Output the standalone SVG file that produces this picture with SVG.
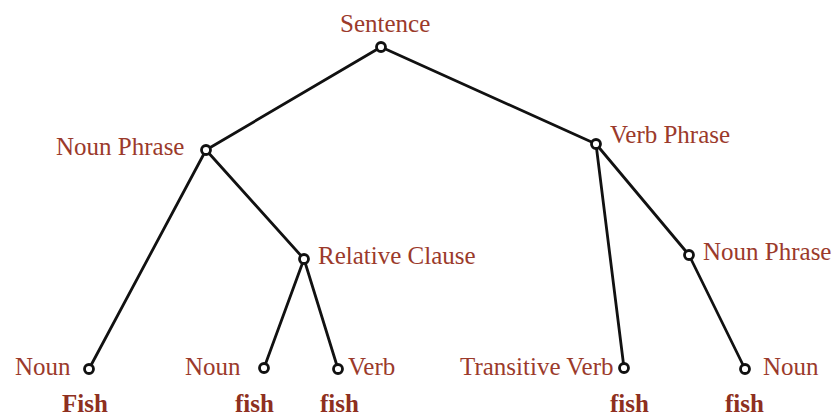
<svg xmlns="http://www.w3.org/2000/svg" width="840" height="416" viewBox="0 0 840 416">
<style>
.lbl{font-family:"Liberation Serif","DejaVu Serif",serif;font-size:25px;fill:#9b3a2b}
.word{font-family:"Liberation Serif","DejaVu Serif",serif;font-size:25px;font-weight:bold;fill:#8e2f20}
.edge{stroke:#111;stroke-width:2.8;fill:none;stroke-linecap:round}
.dot{stroke:#111;stroke-width:2.8;fill:#fff}
</style>
<rect width="840" height="416" fill="#fff"/>
<g id="connectors">
<line class="edge" x1="381" y1="47" x2="206" y2="150"/>
<line class="edge" x1="381" y1="47" x2="596" y2="144"/>
<line class="edge" x1="206" y1="150" x2="89" y2="369"/>
<line class="edge" x1="206" y1="150" x2="304" y2="259"/>
<line class="edge" x1="304" y1="259" x2="264" y2="368"/>
<line class="edge" x1="304" y1="259" x2="338" y2="369"/>
<line class="edge" x1="596" y1="144" x2="624" y2="368"/>
<line class="edge" x1="596" y1="144" x2="689" y2="255"/>
<line class="edge" x1="689" y1="255" x2="745" y2="369"/>
</g>
<g id="sentence"><circle class="dot" cx="381" cy="47" r="4.5"/><text class="lbl" x="340" y="32">Sentence</text></g>
<g id="np1"><circle class="dot" cx="206" cy="150" r="4.5"/><text class="lbl" x="56" y="155">Noun Phrase</text></g>
<g id="vp"><circle class="dot" cx="596" cy="144" r="4.5"/><text class="lbl" x="610" y="143">Verb Phrase</text></g>
<g id="rc"><circle class="dot" cx="304" cy="259" r="4.5"/><text class="lbl" x="318" y="264">Relative Clause</text></g>
<g id="np2"><circle class="dot" cx="689" cy="255" r="4.5"/><text class="lbl" x="703" y="260">Noun Phrase</text></g>
<g id="noun1"><circle class="dot" cx="89" cy="369" r="4.5"/><text class="lbl" x="15" y="375">Noun</text><text class="word" x="62" y="412">Fish</text></g>
<g id="noun2"><circle class="dot" cx="264" cy="368" r="4.5"/><text class="lbl" x="185" y="375">Noun</text><text class="word" x="235" y="412">fish</text></g>
<g id="verb"><circle class="dot" cx="338" cy="369" r="4.5"/><text class="lbl" x="348" y="375">Verb</text><text class="word" x="320" y="412">fish</text></g>
<g id="tverb"><circle class="dot" cx="624" cy="368" r="4.5"/><text class="lbl" x="460" y="375">Transitive Verb</text><text class="word" x="610" y="412">fish</text></g>
<g id="noun3"><circle class="dot" cx="745" cy="369" r="4.5"/><text class="lbl" x="763" y="375">Noun</text><text class="word" x="725" y="412">fish</text></g>
</svg>
